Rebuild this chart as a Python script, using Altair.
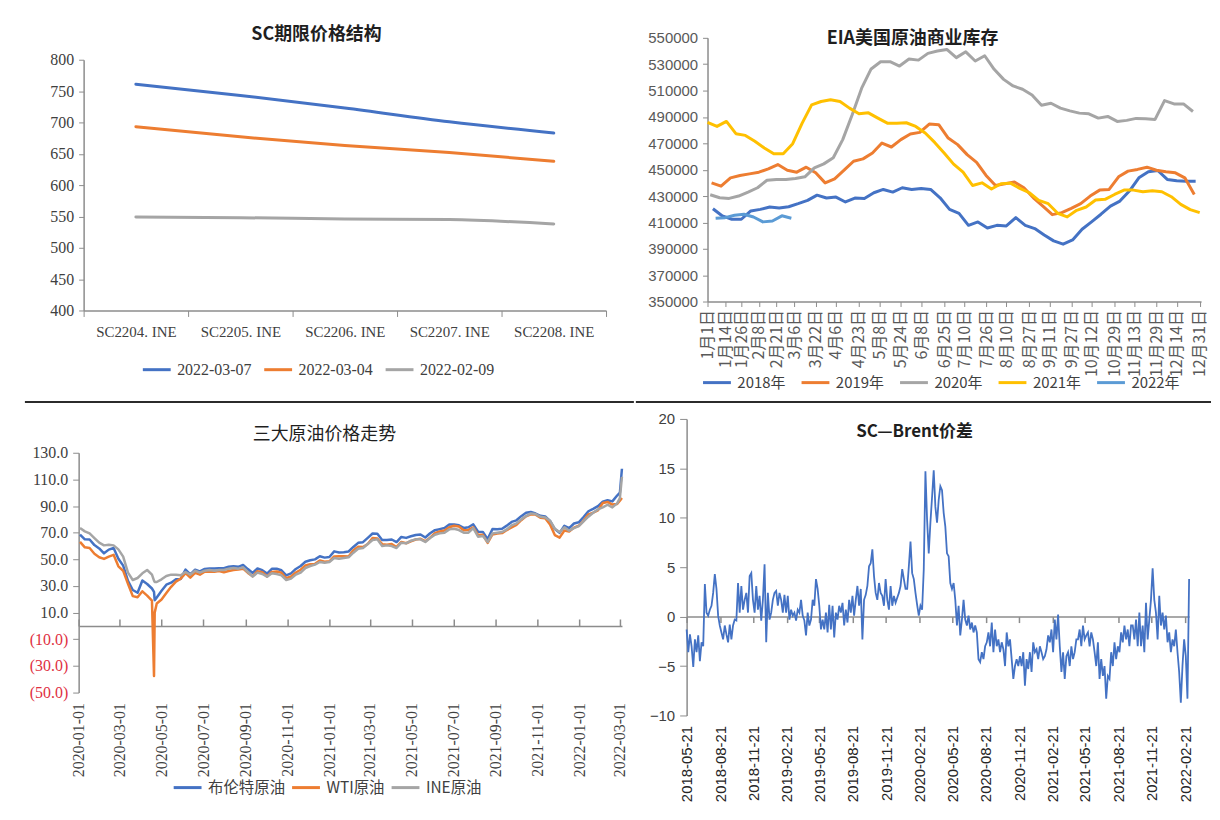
import json
import re
import pandas as pd
import altair as alt

BLUE, ORANGE, GRAY, YELLOW, LBLUE = "#4472C4", "#ED7D31", "#A5A5A5", "#FFC000", "#5B9BD5"
AXIS_GRAY = "#8C8C8C"
TEXT = "#404040"
SERIF = "Liberation Serif, Noto Sans CJK SC, serif"
SANS = "Liberation Sans, Noto Sans CJK SC, sans-serif"
CJK = "Noto Sans CJK SC, sans-serif"

# ---------------- SC futures curve ----------------
sc_contracts = ["SC2204. INE", "SC2205. INE", "SC2206. INE", "SC2207. INE", "SC2208. INE"]
sc_series = ["2022-03-07", "2022-03-04", "2022-02-09"]
sc_0307 = [761, 743, 723, 701, 683]
sc_0304 = [693, 677, 663, 652, 638]
sc_0209 = [549, 548, 546, 545, 538]
sc_yticks = [400, 450, 500, 550, 600, 650, 700, 750, 800]

# ---------------- EIA commercial crude stocks ----------------
eia_series = ["2018年", "2019年", "2020年", "2021年", "2022年"]
eia_first_week = ["2018-01-05", "2019-01-04", "2020-01-03", "2021-01-01", "2022-01-07"]
eia_2018 = [420400, 414900, 412400, 412400, 418700, 419900, 421700, 421000, 421900, 424200,
            426700, 430700, 428500, 429200, 425500, 428500, 428200, 432500, 435000, 433000,
            436300, 435000, 435800, 435000, 428700, 419900, 416900, 407800, 410400, 405800,
            407800, 407300, 413600, 407800, 405300, 400500, 396000, 393500, 396700, 404800,
            410400, 416200, 422400, 426200, 433800, 443800, 448400, 449400, 442600, 441600,
            441300, 441300]
eia_2019 = [440000, 437500, 443800, 445600, 446800, 448100, 450600, 453900, 449600, 448100,
            451900, 447600, 440000, 443100, 449600, 456400, 458200, 462700, 470200, 467200,
            472800, 477000, 478300, 484600, 484100, 474000, 469000, 461400, 455600, 445600,
            438000, 439300, 440600, 436300, 428700, 422400, 415900, 417400, 420700, 424200,
            430000, 434500, 435000, 444600, 448900, 450200, 451900, 449600, 448400, 447600,
            443800, 431200]
eia_2020 = [431000, 428700, 428200, 430000, 433000, 436300, 442000, 442600, 442600, 443300,
            444600, 451400, 454400, 459000, 472800, 491600, 511800, 526400, 531900, 531900,
            528600, 533900, 533100, 538200, 540000, 541200, 535000, 539400, 532400, 536400,
            526100, 518500, 513500, 511000, 506700, 498900, 500400, 496700, 494600, 492900,
            492400, 489100, 490400, 486600, 487400, 488900, 488600, 488100, 502400, 499900,
            499900, 494100]
eia_2021 = [485800, 482800, 486600, 477300, 476000, 471500, 466500, 462000, 462000, 469700,
            485300, 499200, 501700, 503000, 501700, 496700, 492400, 493100, 489100, 485300,
            485300, 485600, 482800, 477800, 470700, 462700, 454200, 448100, 438000, 440000,
            435300, 439300, 439800, 435800, 432500, 426700, 424200, 416900, 414200, 419200,
            421700, 427000, 427500, 431200, 434500, 434500, 433300, 434000, 433300, 429500,
            423700, 419700, 417400]
eia_2022 = [413100, 413600, 415400, 416200, 414100, 410400, 411100, 415000, 413200]
eia_xlabels = ["1月1日", "1月14日", "1月26日", "2月8日", "2月21日", "3月6日", "3月22日", "4月6日",
               "4月23日", "5月8日", "5月24日", "6月8日", "6月25日", "7月10日", "7月26日", "8月10日",
               "8月27日", "9月11日", "9月27日", "10月12日", "10月29日", "11月13日", "11月29日",
               "12月14日", "12月31日"]
eia_yticks = [350000, 370000, 390000, 410000, 430000, 450000, 470000, 490000, 510000, 530000, 550000]

# ---------------- Brent / WTI / INE prices ----------------
px_series = ["布伦特原油", "WTI原油", "INE原油"]
px_week_start = "2020-01-03"
brent_w = [68.6, 65.0, 64.9, 60.7, 58.2, 54.5, 57.3, 58.5, 50.5, 45.3, 33.9, 27.0, 24.9,
           34.1, 31.5, 28.1, 21.4, 26.4, 31.0, 32.5, 35.1, 35.3, 42.3, 38.7, 42.2, 41.0,
           42.8, 43.2, 43.1, 43.3, 43.3, 44.4, 44.8, 44.4, 45.8, 42.7, 39.8, 43.2, 41.9,
           39.3, 42.9, 42.9, 41.8, 37.9, 39.5, 42.8, 45.0, 48.2, 49.3, 50.0, 52.3, 51.3,
           51.8, 56.0, 55.1, 55.4, 55.9, 59.3, 62.4, 62.9, 66.1, 69.4, 69.2, 64.5, 64.6,
           64.9, 63.0, 66.8, 66.1, 67.3, 68.3, 68.7, 66.4, 69.6, 71.9, 72.7, 73.5, 76.2,
           76.2, 75.6, 73.6, 74.1, 76.3, 70.7, 70.6, 65.2, 72.7, 72.6, 72.9, 75.3, 78.1,
           79.3, 82.4, 84.9, 85.5, 84.4, 82.7, 82.2, 78.9, 72.7, 69.9, 75.2, 73.5, 76.9, 77.8,
           81.8, 86.1, 87.9, 90.0, 93.3, 94.4, 93.5, 97.9]
wti_w = [63.1, 59.0, 58.5, 54.2, 51.6, 50.3, 52.1, 53.4, 44.8, 41.3, 31.7, 22.4, 21.5,
         26.0, 22.8, 19.0, 16.9, 19.8, 24.7, 29.4, 33.3, 35.5, 39.6, 36.3, 39.8, 38.5,
         40.7, 40.6, 40.6, 41.3, 40.3, 41.2, 42.0, 42.3, 43.0, 39.8, 37.3, 41.1, 40.3,
         37.1, 40.6, 40.9, 39.9, 35.8, 37.1, 40.1, 42.2, 45.5, 46.3, 46.6, 49.1, 48.2,
         48.5, 52.2, 52.4, 52.3, 52.2, 56.9, 59.5, 59.2, 61.5, 66.1, 65.6, 61.4, 61.0,
         61.5, 59.3, 63.1, 62.1, 63.6, 64.9, 65.4, 63.6, 66.3, 69.6, 70.9, 71.6, 74.1,
         75.2, 74.6, 71.8, 72.1, 74.0, 68.3, 68.4, 62.3, 68.7, 69.3, 69.7, 72.0, 74.0,
         75.9, 79.4, 82.3, 83.8, 83.6, 81.3, 80.8, 76.1, 68.2, 66.3, 71.7, 70.9, 73.8, 75.2,
         78.9, 83.8, 85.1, 86.8, 92.3, 93.1, 91.1, 91.6]
ine_w = [73.5, 71.0, 69.5, 66.0, 62.5, 60.5, 61.0, 60.5, 57.5, 52.0, 40.0, 34.5, 36.0,
         39.5, 42.0, 38.5, 33.0, 35.0, 37.5, 38.5, 38.5, 38.0, 40.5, 38.5, 41.5, 40.0,
         41.5, 42.0, 41.5, 42.0, 42.0, 43.0, 43.5, 43.0, 44.0, 40.5, 37.0, 40.0, 39.0,
         37.0, 39.5, 39.0, 38.0, 34.5, 35.5, 38.5, 40.0, 43.5, 45.0, 46.0, 48.0, 47.5,
         48.0, 51.0, 50.5, 51.0, 51.5, 55.0, 58.0, 58.5, 61.5, 64.5, 65.0, 60.0, 60.5,
         60.0, 58.5, 62.5, 62.0, 64.0, 65.0, 65.0, 63.0, 66.0, 68.5, 69.5, 70.0, 72.5,
         73.0, 72.0, 70.0, 70.0, 73.5, 67.0, 67.5, 63.0, 69.5, 70.0, 70.5, 72.5, 75.5,
         77.0, 80.0, 82.5, 84.5, 84.0, 82.0, 81.5, 79.0, 73.0, 70.5, 74.0, 71.5, 73.5, 75.0,
         78.5, 82.0, 85.0, 87.5, 89.0, 91.0, 89.0, 92.0]
px_extra_dates = ["2020-04-20", "2020-04-21", "2022-03-01", "2022-03-04"]
brent_x = [25.6, 19.3, 100.0, 118.0]
wti_x = [-37.6, 10.0, 94.0, 96.0]
ine_x = [34.0, 33.0, 96.0, 112.0]
px_xlabels = ["2020-01-01", "2020-03-01", "2020-05-01", "2020-07-01", "2020-09-01", "2020-11-01",
              "2021-01-01", "2021-03-01", "2021-05-01", "2021-07-01", "2021-09-01", "2021-11-01",
              "2022-01-01", "2022-03-01"]
px_end = "2022-03-04"
px_yticks = [-50, -30, -10, 10, 30, 50, 70, 90, 110, 130]

# ---------------- SC - Brent spread ----------------
spread_start, spread_end = "2018-05-21", "2022-03-04"
spread = [-1.3, -3.6, -1.8, -3.0, -5.1, -2.3, -3.6, -1.9, -4.5, -2.6, -3.0, 3.3, 0.4, 0.1, 0.7,
          1.1, 2.4, 4.3, 2.8, 0.1, -0.9, -1.6, -2.3, -0.9, -1.8, -2.6, -0.8, -2.3, -0.9, -0.3,
          -0.4, 3.4, 0.4, 3.1, 0.7, 1.7, 2.4, 0.4, 4.1, 4.4, 1.7, 0.4, 3.1, 0.7, 2.1, -0.4, 1.7,
          5.3, -2.6, 2.4, -0.3, 0.4, 1.7, 2.4, 2.6, 1.1, 2.4, 1.7, 0.4, 2.2, 0.4, 2.1, -0.3, 0.7,
          0.1, 0.4, -0.4, 0.7, 0.4, 1.7, 0.1, -0.4, -1.9, 0.4, -0.9, -0.3, 1.7, 1.1, 3.8, 2.8,
          1.1, -1.3, -0.3, -1.3, 0.4, -1.6, 1.2, -1.3, 1.1, -2.1, 0.4, -0.3, 1.1, 0.4, 1.4, -0.9,
          0.7, -0.6, 1.7, 0.4, 2.1, 0.1, 1.7, 3.1, 1.1, 2.8, -2.3, 1.7, 2.2, 3.1, 5.1, 5.4, 6.8,
          4.1, 2.4, 1.7, 3.4, 2.4, 2.1, 1.1, 3.8, 1.7, 0.7, 3.1, 1.1, 2.1, 1.4, 1.9, 2.4, 3.1,
          4.8, 3.8, 2.8, 2.8, 5.1, 7.6, 4.4, 3.8, 2.4, 1.2, 0.1, 1.1, 0.7, 4.8, 14.7, 9.8, 6.4,
          9.5, 12.1, 14.8,
          11.1, 9.5, 11.8, 13.2, 12.8, 10.5, 9.1, 6.4, 6.1, 3.4, 2.8, 3.4, 1.7, -0.9, 1.1, -1.9,
          -0.3, 1.7, -0.3, -0.9, 0.1, -1.3, -0.6, -1.6, -0.9, -1.6, -4.3, -4.6, -3.6, -4.3, -3.0,
          -2.6, -1.6, -3.0, -0.6, -3.6, -1.3, -3.0, -2.3, -3.6, -2.6, -3.3, -5.0, -1.6, -3.0,
          -2.3, -4.3, -6.3, -5.0, -4.3, -5.0, -4.0, -5.0, -3.6, -7.0, -4.3, -5.3, -3.6, -5.6,
          -2.6, -3.6, -3.3, -4.3, -3.0, -3.6, -4.3, -4.0, -3.3, -1.9, -2.6, -1.3, -3.6, -0.3,
          -2.3, 0.2, -3.0, -5.6, -3.6, -6.3, -4.0, -3.6, -5.0, -3.0, -4.3, -3.6, -2.3, -2.3,
          -1.3, -3.0, -0.9, -2.3, -1.9, -1.6, -3.0, -1.6, -2.3, -3.6, -5.0, -2.6, -6.3, -4.3,
          -6.0, -5.0, -8.3, -6.0, -6.3, -3.6, -5.0, -2.6, -4.3, -3.0, -3.6, -1.6, -2.6, -0.9,
          -2.3, -1.3, -3.0, -0.9, -0.9, -2.3, -0.3, -3.0, 0.4, -3.0, -0.9, -3.6, 1.4, -2.3, -0.3,
          1.7, 4.9, 1.7, 0.4, -2.3, 2.1, -0.9, 0.4, -1.3, 0.1, -2.6, -1.6, -3.6, -2.3, -3.0,
          -1.3, -3.6, -5.6, -8.7, -5.0, -2.3, -4.0, -8.3, 3.8]
spread_xlabels = ["2018-05-21", "2018-08-21", "2018-11-21", "2019-02-21", "2019-05-21", "2019-08-21",
                  "2019-11-21", "2020-02-21", "2020-05-21", "2020-08-21", "2020-11-21", "2021-02-21",
                  "2021-05-21", "2021-08-21", "2021-11-21", "2022-02-21"]
spread_yticks = [-10, -5, 0, 5, 10, 15, 20]


# ---------------- helpers ----------------
def label_expr(days, labels):
    return "%s[indexof(%s, datum.value)]" % (json.dumps(labels, ensure_ascii=False), json.dumps(days))


def title_layer(text, x, y, size, font=CJK, weight="bold"):
    return alt.Chart(pd.DataFrame({"t": [text]})).mark_text(
        font=font, fontSize=size, fontWeight=weight, color="#1F1F1F", align="center", baseline="middle"
    ).encode(text="t:N", x=alt.value(x), y=alt.value(y))


def frame_rule(x1, x2, y):
    return alt.Chart(pd.DataFrame({"k": [0]})).mark_rule(color="#2B2B2B", strokeWidth=2).encode(
        x=alt.value(x1), x2=alt.value(x2), y=alt.value(y))


def stroke_legend(x, y, font, size, colpad):
    return alt.Legend(orient="none", legendX=x, legendY=y, direction="horizontal", title=None,
                      symbolType="stroke", symbolSize=784, symbolStrokeWidth=3, labelFont=font,
                      labelFontSize=size, labelColor=TEXT, labelOffset=5, columnPadding=colpad,
                      gridAlign="none", padding=0)


# Row 1 plot areas start at y=36, row 2 at y=420; the left column starts at x=78.
# Data ranges are shifted inside the plot areas to match each panel's own frame.

# ---------------- panel TL ----------------
sc_rows = []
for s, vals in zip(sc_series, [sc_0307, sc_0304, sc_0209]):
    for c, v in zip(sc_contracts, vals):
        sc_rows.append({"合约": c, "日期": s, "价格": v})
sc_df = pd.DataFrame(sc_rows)

TL_W, TL_H = 530, 274
tl_lines = alt.Chart(sc_df).mark_line(strokeWidth=3, interpolate="monotone", strokeCap="round").encode(
    x=alt.X("合约:N", sort=sc_contracts,
            scale=alt.Scale(type="band", paddingInner=0, paddingOuter=0, range=[5, TL_W]),
            axis=alt.Axis(title=None, grid=False, tickBand="extent", labelAngle=0, labelFont=SERIF,
                          labelFontSize=15, labelColor=TEXT, tickSize=6, labelPadding=8,
                          domainColor=AXIS_GRAY, tickColor=AXIS_GRAY, domainWidth=1.5)),
    y=alt.Y("价格:Q", scale=alt.Scale(domain=[400, 800], nice=False, zero=False, range=[TL_H, 22]),
            axis=alt.Axis(title=None, grid=False, values=sc_yticks, labelFont=SERIF, labelFontSize=16,
                          labelColor=TEXT, tickSize=5, labelPadding=5, domainColor=AXIS_GRAY,
                          tickColor=AXIS_GRAY, domainWidth=1.5, offset=-5, minExtent=56, maxExtent=56)),
    color=alt.Color("日期:N", sort=sc_series, scale=alt.Scale(domain=sc_series, range=[BLUE, ORANGE, GRAY]),
                    legend=stroke_legend(63, 318, SERIF, 16, 6)),
)
tl = alt.layer(tl_lines, title_layer("SC期限价格结构", 239, -3, 18)).properties(width=TL_W, height=TL_H)

# ---------------- panel TR ----------------
eia_rows = []
for name, first, vals in zip(eia_series, eia_first_week, [eia_2018, eia_2019, eia_2020, eia_2021, eia_2022]):
    f = pd.Timestamp(first)
    base = (f - pd.Timestamp(year=f.year, month=1, day=1)).days
    for i, v in enumerate(vals):
        eia_rows.append({"年份": name, "日": base + 7 * i, "库存": v})
eia_df = pd.DataFrame(eia_rows)
eia_label_days = []
for lab in eia_xlabels:
    m, d = re.match(r"(\d+)月(\d+)日", lab).groups()
    eia_label_days.append((pd.Timestamp(2021, int(m), int(d)) - pd.Timestamp(2021, 1, 1)).days)

TR_W, TR_H = 496, 265
tr_lines = alt.Chart(eia_df).mark_line(strokeWidth=3, strokeJoin="round").encode(
    x=alt.X("日:Q", scale=alt.Scale(domain=[0, 365], nice=False, zero=False),
            axis=alt.Axis(title=None, grid=False, values=eia_label_days,
                          labelExpr=label_expr(eia_label_days, eia_xlabels),
                          labelAngle=270, labelAlign="right", labelBaseline="middle", labelFont=CJK,
                          labelFontSize=16, labelColor="#595959", tickSize=5, labelPadding=3,
                          labelFlush=False, labelOverlap=False, domainColor=AXIS_GRAY, tickColor=AXIS_GRAY,
                          domainWidth=1.5)),
    y=alt.Y("库存:Q", scale=alt.Scale(domain=[350000, 550000], nice=False, zero=False),
            axis=alt.Axis(title=None, grid=False, values=eia_yticks, format="d", labelFont=SANS,
                          labelFontSize=15, labelColor="#595959", tickSize=5, labelPadding=5,
                          domainColor=AXIS_GRAY, tickColor=AXIS_GRAY, domainWidth=1.5,
                          minExtent=66, maxExtent=66)),
    color=alt.Color("年份:N", sort=eia_series,
                    scale=alt.Scale(domain=eia_series, range=[BLUE, ORANGE, GRAY, YELLOW, LBLUE]),
                    legend=stroke_legend(-6, 331, CJK, 15, 9)),
)
tr = alt.layer(tr_lines, title_layer("EIA美国原油商业库存", 206, 1, 18)).properties(width=TR_W, height=TR_H)

# ---------------- panel BL ----------------
px_start = pd.Timestamp(px_xlabels[0])
week_dates = pd.date_range(px_week_start, periods=len(brent_w), freq="7D")
px_rows = []
for name, w, x in zip(px_series, [brent_w, wti_w, ine_w], [brent_x, wti_x, ine_x]):
    pts = list(zip(week_dates, w)) + [(pd.Timestamp(d), v) for d, v in zip(px_extra_dates, x)]
    pts.sort(key=lambda p: p[0])
    for d, v in pts:
        px_rows.append({"品种": name, "d": (d - px_start).days, "价格": v})
px_df = pd.DataFrame(px_rows)
px_tick_days = [(pd.Timestamp(l) - px_start).days for l in px_xlabels]
px_dmax = (pd.Timestamp(px_end) - px_start).days

BL_W, BL_H = 546, 275
BL_TOP = 34
bl_zero_off = -(BL_TOP + (BL_H - BL_TOP) * 130 / 180)
bl_lines = alt.Chart(px_df).mark_line(strokeWidth=2.5, strokeJoin="round").encode(
    x=alt.X("d:Q", scale=alt.Scale(domain=[0, px_dmax], nice=False, zero=False),
            axis=alt.Axis(title=None, grid=False, values=px_tick_days,
                          labelExpr=label_expr(px_tick_days, px_xlabels),
                          labelAngle=270, labelAlign="right", labelBaseline="middle", labelFont=SERIF,
                          labelFontSize=16, labelColor=TEXT, domain=False, ticks=False, labelPadding=10,
                          labelFlush=False, labelOverlap=False)),
    y=alt.Y("价格:Q", scale=alt.Scale(domain=[-50, 130], nice=False, zero=False, range=[BL_H, BL_TOP]),
            axis=alt.Axis(title=None, grid=False, values=px_yticks,
                          labelExpr="datum.value < 0 ? '(' + format(-datum.value, '.1f') + ')' : format(datum.value, '.1f')",
                          labelColor=alt.condition("datum.value < 0", alt.value("#E0303F"), alt.value(TEXT)),
                          labelFont=SERIF, labelFontSize=16, tickSize=6, labelPadding=5,
                          domainColor=AXIS_GRAY, tickColor=AXIS_GRAY, domainWidth=1.5,
                          minExtent=56, maxExtent=56)),
    color=alt.Color("品种:N", sort=px_series, scale=alt.Scale(domain=px_series, range=[BLUE, ORANGE, GRAY]),
                    legend=stroke_legend(94, 355, CJK, 15.5, 0)),
)
bl_zero = alt.Chart(pd.DataFrame({"d": px_tick_days})).mark_rule(opacity=0).encode(
    x=alt.X("d:Q", axis=alt.Axis(orient="top", offset=bl_zero_off, values=px_tick_days, labels=False,
                                 grid=False, title=None, tickSize=7, domainColor=AXIS_GRAY,
                                 tickColor=AXIS_GRAY, domainWidth=1.5, tickWidth=1.5))
)
bl = alt.layer(
    bl_lines, bl_zero, title_layer("三大原油价格走势", 247, 16, 18, weight="normal"),
    frame_rule(-54, 558, -17),
).resolve_axis(x="independent").properties(width=BL_W, height=BL_H)

# ---------------- panel BR ----------------
sp_start = pd.Timestamp(spread_start)
sp_dates = pd.date_range(spread_start, spread_end, periods=len(spread))
sp_df = pd.DataFrame({"d": [(d - sp_start).total_seconds() / 86400 for d in sp_dates], "价差": spread})
sp_tick_days = [(pd.Timestamp(l) - sp_start).days for l in spread_xlabels]
sp_dmax = (pd.Timestamp(spread_end) - sp_start).days

BR_W, BR_H = 505, 298
br_zero_off = -BR_H * 10 / 30
br_line = alt.Chart(sp_df).mark_line(strokeWidth=1.8, color=BLUE).encode(
    x=alt.X("d:Q", scale=alt.Scale(domain=[0, sp_dmax], nice=False, zero=False),
            axis=alt.Axis(title=None, grid=False, values=sp_tick_days,
                          labelExpr=label_expr(sp_tick_days, spread_xlabels),
                          labelAngle=270, labelAlign="right", labelBaseline="middle", labelFont=SANS,
                          labelFontSize=15, labelColor="#262626", domain=False, ticks=False, labelPadding=10,
                          labelFlush=False, labelOverlap=False)),
    y=alt.Y("价差:Q", scale=alt.Scale(domain=[-10, 20], nice=False, zero=False),
            axis=alt.Axis(title=None, grid=False, values=spread_yticks, labelFont=SANS, labelFontSize=15,
                          labelColor="#404040", tickSize=7, labelPadding=5, domainColor=AXIS_GRAY,
                          tickColor=AXIS_GRAY, domainWidth=1.5, minExtent=42, maxExtent=42)),
)
br_zero = alt.Chart(pd.DataFrame({"d": sp_tick_days})).mark_rule(opacity=0).encode(
    x=alt.X("d:Q", axis=alt.Axis(orient="bottom", offset=br_zero_off, values=sp_tick_days, labels=False,
                                 grid=False, title=None, tickSize=6, domainColor=AXIS_GRAY,
                                 tickColor=AXIS_GRAY, domainWidth=1.5, tickWidth=1.5))
)
br = alt.layer(
    br_line, br_zero, title_layer("SC—Brent价差", 229, 13, 17),
    frame_rule(-51, 527, -17),
).resolve_axis(x="independent").properties(width=BR_W, height=BR_H)

# ---------------- layout ----------------
row1 = alt.hconcat(tl, tr, spacing=35).resolve_scale(color="independent").resolve_legend(color="independent")
row2 = alt.hconcat(bl, br, spacing=0).resolve_scale(color="independent").resolve_legend(color="independent")
chart = alt.vconcat(row1, row2, spacing=10).resolve_scale(color="independent").resolve_legend(
    color="independent"
).properties(
    padding={"left": 15, "top": 16, "right": 0, "bottom": 0}
).configure(background="white").configure_view(stroke=None).configure_axis(grid=False)

chart.save("out.html", embed_options={"renderer": "svg", "actions": False})
